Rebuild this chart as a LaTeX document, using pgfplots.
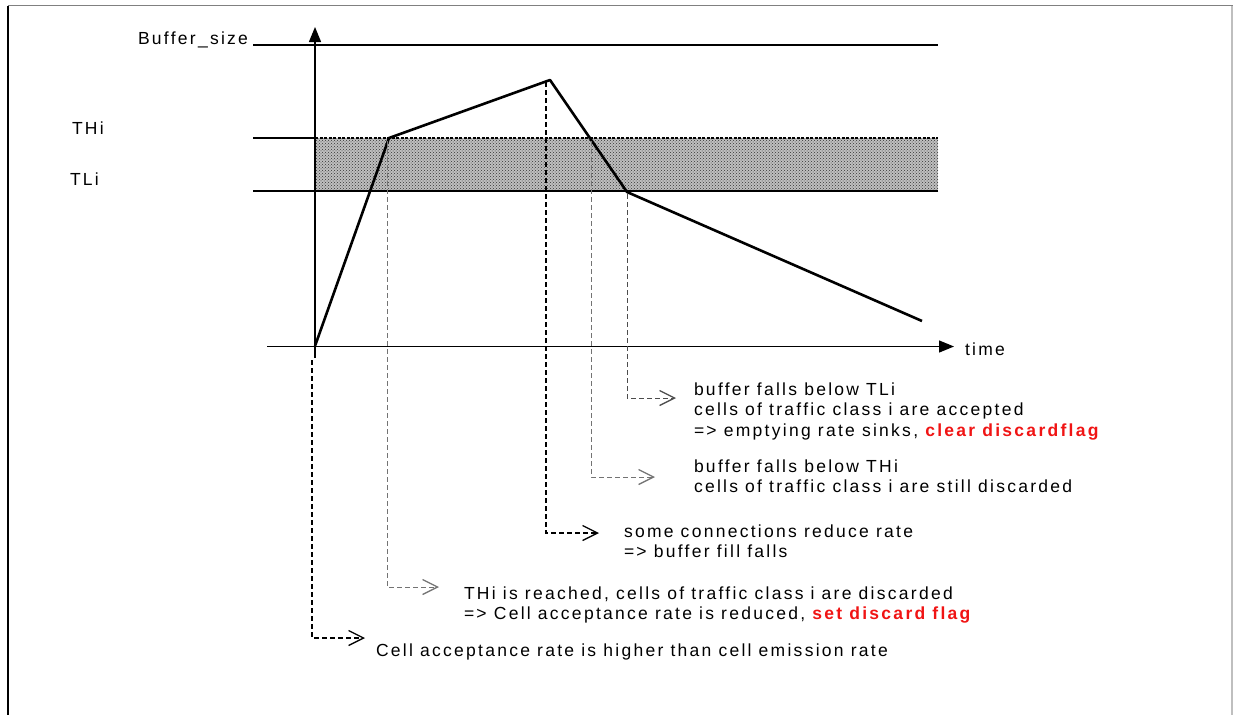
\documentclass[border=0pt]{standalone}
\usepackage{pgfplots}
\pgfplotsset{compat=1.18}
\usepackage{fontspec}
\setmainfont{Liberation Sans}[LetterSpace=13]
\usetikzlibrary{arrows.meta,patterns}
\definecolor{flagred}{RGB}{240,20,20}
\tikzset{lbl/.style={font=\fontsize{17.5}{20}\selectfont,inner sep=0pt,outer sep=0pt},
  barb/.style={-{Straight Barb[length=15pt,width=15pt,line width=1.3pt]}}}
\begin{document}
\begin{tikzpicture}
\begin{axis}[width=1233pt,height=715pt,scale only axis,
  xmin=0,xmax=1233,ymin=0,ymax=715,y dir=reverse,
  axis lines=none,ticks=none,clip=false]
% frame
\addplot[black!50,line width=1.6pt] coordinates {(8,5.5)(1233,5.5)};
\addplot[black,line width=1.2pt] coordinates {(8,5.5)(8,715)};
\addplot[black!25,line width=1.2pt] coordinates {(1232,5.5)(1232,715)};
% band
\addplot[draw=none,fill=black!25] coordinates {(315,138)(938,138)(938,191)(315,191)} -- cycle;
\addplot[draw=none,pattern=crosshatch dots,pattern color=black!80] coordinates {(315,138)(938,138)(938,191)(315,191)} -- cycle;
% horizontal levels
\addplot[line width=1.3pt] coordinates {(253,45)(938,45)};
\addplot[line width=1.3pt] coordinates {(253,138)(315,138)};
\addplot[line width=1.1pt,dash pattern=on 3pt off 1.5pt] coordinates {(315,138)(938,138)};
\addplot[line width=1.3pt] coordinates {(253,191)(938,191)};
% axes
\addplot[line width=1.3pt,-{Triangle[length=15pt,width=12pt]}] coordinates {(315,358)(315,27)};
\addplot[line width=1.3pt,-{Triangle[length=15pt,width=12pt]}] coordinates {(267,346.5)(954,346.5)};
% buffer curve
\addplot[line width=2.6pt,line join=round] coordinates {(315,346)(389,138)(550,80)(627,192)(922,321)};
% annotation leaders
\addplot[black,line width=1.1pt,dash pattern=on 5pt off 3pt,barb] coordinates {(312,360)(312,638)(365,638)};
\addplot[black!55,line width=0.9pt,dash pattern=on 5pt off 3pt,barb] coordinates {(387,141)(387,587)(439,587)};
\addplot[black,line width=1.1pt,dash pattern=on 5pt off 3pt,barb] coordinates {(546,82)(546,533)(599,533)};
\addplot[black!55,line width=0.9pt,dash pattern=on 5pt off 3pt,barb] coordinates {(591,141)(591,477)(655,477)};
\addplot[black!70,line width=0.9pt,dash pattern=on 5pt off 3pt,barb] coordinates {(627,194)(627,398)(676,398)};
% labels
\node[lbl,anchor=base east] at (axis cs:248,44) {Buffer\_size};
\node[lbl,anchor=base west] at (axis cs:72,134) {THi};
\node[lbl,anchor=base west] at (axis cs:70,185) {TLi};
\node[lbl,anchor=base west] at (axis cs:965,355) {time};
\node[lbl,anchor=base west] at (axis cs:694,395) {buffer falls below TLi};
\node[lbl,anchor=base west] at (axis cs:694,415.5) {cells of traffic class i are accepted};
\node[lbl,anchor=base west] at (axis cs:694,436) {=> emptying rate sinks, \textcolor{flagred}{\bfseries clear discardflag}};
\node[lbl,anchor=base west] at (axis cs:694,472) {buffer falls below THi};
\node[lbl,anchor=base west] at (axis cs:694,492.5) {cells of traffic class i are still discarded};
\node[lbl,anchor=base west] at (axis cs:624,537) {some connections reduce rate};
\node[lbl,anchor=base west] at (axis cs:624,557) {=> buffer fill falls};
\node[lbl,anchor=base west] at (axis cs:464,599) {THi is reached, cells of traffic class i are discarded};
\node[lbl,anchor=base west] at (axis cs:464,619) {=> Cell acceptance rate is reduced, \textcolor{flagred}{\bfseries set discard flag}};
\node[lbl,anchor=base west] at (axis cs:376,656) {Cell acceptance rate is higher than cell emission rate};
\end{axis}
\pgfresetboundingbox
\path[use as bounding box] (0,0) rectangle (1233pt,715pt);
\end{tikzpicture}
\end{document}
